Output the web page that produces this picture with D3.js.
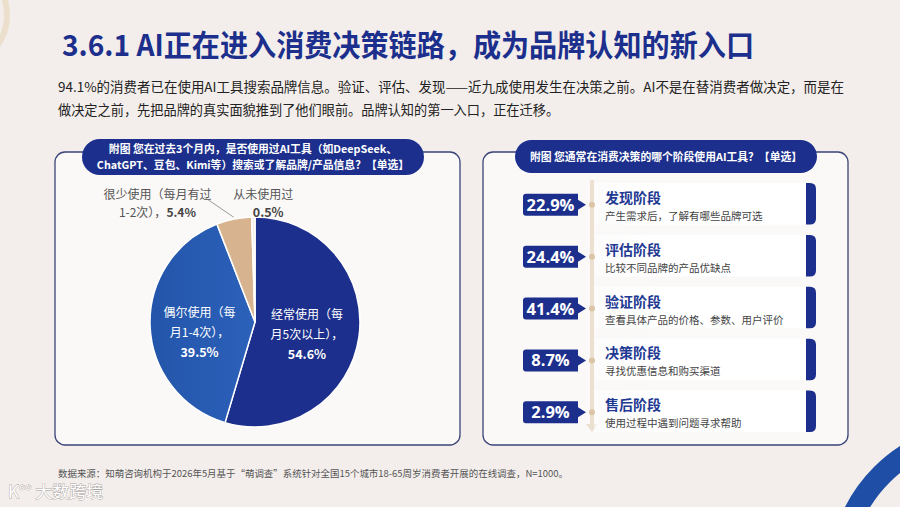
<!DOCTYPE html>
<html>
<head>
<meta charset="utf-8">
<script src="https://cdn.jsdelivr.net/npm/d3@7"></script>
<style>
  html, body { margin: 0; padding: 0; background: #f3eeeb; }
  svg { display: block; font-family: "Noto Sans CJK SC", "Noto Sans", sans-serif; }
</style>
</head>
<body>
<div id="chart"></div>
<script>
// pie: share of AI tool usage frequency
const pieNames = ["经常使用", "偶尔使用", "很少使用", "从未使用过"];
const pieValues = [54.6, 39.5, 5.4, 0.5];
const pieLines = [
  ["经常使用（每", "月5次以上），"],
  ["偶尔使用（每", "月1-4次），"],
  ["很少使用（每月有过", "1-2次），"],
  ["从未使用过", ""]
];

// stages of the purchase decision
const stageNames = ["发现阶段", "评估阶段", "验证阶段", "决策阶段", "售后阶段"];
const stageDescs = ["产生需求后，了解有哪些品牌可选", "比较不同品牌的产品优缺点",
  "查看具体产品的价格、参数、用户评价", "寻找优惠信息和购买渠道", "使用过程中遇到问题寻求帮助"];
const stageValues = [22.9, 24.4, 41.4, 8.7, 2.9];

const W = 900, H = 507;
const navy = "#1c2f8c";

const svg = d3.select("#chart").append("svg")
  .attr("width", W).attr("height", H);

const defs = svg.append("defs");
const g1 = defs.append("linearGradient").attr("id", "midBlue")
  .attr("x1", "0").attr("y1", "0").attr("x2", "1").attr("y2", "0");
g1.append("stop").attr("offset", "0").attr("stop-color", "#2355aa");
g1.append("stop").attr("offset", "1").attr("stop-color", "#2c61ba");
const g2 = defs.append("linearGradient").attr("id", "cardFill")
  .attr("x1", "0").attr("y1", "0").attr("x2", "1").attr("y2", "0");
g2.append("stop").attr("offset", "0").attr("stop-color", "#ffffff").attr("stop-opacity", 0.5);
g2.append("stop").attr("offset", "0.3").attr("stop-color", "#ffffff").attr("stop-opacity", 1);

// background
svg.append("rect").attr("width", W).attr("height", H).attr("fill", "#f3eeeb");

// decorative arcs
svg.append("circle").attr("cx", -45).attr("cy", 15).attr("r", 52)
  .attr("fill", "none").attr("stroke", "#eadcc6").attr("stroke-width", 6).attr("opacity", 0.8);
svg.append("circle").attr("cx", 985).attr("cy", 578).attr("r", 146)
  .attr("fill", "none").attr("stroke", "#1f4ea6").attr("stroke-width", 22);

// title
svg.append("text").attr("x", 62).attr("y", 56)
  .attr("font-size", 29.5).attr("font-weight", 700).attr("fill", navy)
  .attr("textLength", 692).attr("lengthAdjust", "spacingAndGlyphs")
  .text("3.6.1 AI正在进入消费决策链路，成为品牌认知的新入口");

svg.append("text").attr("x", 58).attr("y", 92)
  .attr("font-size", 13.2).attr("fill", "#222")
  .attr("textLength", 786).attr("lengthAdjust", "spacingAndGlyphs")
  .text("94.1%的消费者已在使用AI工具搜索品牌信息。验证、评估、发现——近九成使用发生在决策之前。AI不是在替消费者做决定，而是在");
svg.append("text").attr("x", 58).attr("y", 115)
  .attr("font-size", 13.2).attr("fill", "#222")
  .text("做决定之前，先把品牌的真实面貌推到了他们眼前。品牌认知的第一入口，正在迁移。");

// panels
function panel(x, y, w, h) {
  svg.append("rect").attr("x", x).attr("y", y).attr("width", w).attr("height", h)
    .attr("rx", 10).attr("fill", "#fbf9f8").attr("stroke", "#3a4478").attr("stroke-width", 1.3);
}
panel(55, 152, 405, 293);
panel(483, 152, 365, 293);

function pill(x, y, w, h, lines, cy, gap) {
  svg.append("rect").attr("x", x).attr("y", y).attr("width", w).attr("height", h)
    .attr("rx", h / 2).attr("fill", navy);
  lines.forEach((t, i) => {
    svg.append("text").attr("x", x + w / 2).attr("y", cy + i * gap)
      .attr("text-anchor", "middle").attr("font-size", 10.8).attr("font-weight", 700)
      .attr("fill", "#fff").text(t);
  });
}
pill(82, 139, 342, 36, ["附图  您在过去3个月内，是否使用过AI工具（如DeepSeek、", "ChatGPT、豆包、Kimi等）搜索或了解品牌/产品信息？【单选】"], 153, 15.5);
pill(515, 140, 302, 33, ["附图  您通常在消费决策的哪个阶段使用AI工具？【单选】"], 161, 0);

// ---------- pie ----------
const cx = 255, cy = 322, R = 105;
const pieColors = [navy, "url(#midBlue)", "#d7b48f", "#f3ece4"];
const pie = d3.pie().sort(null).value(d => d)(pieValues);
const arc = d3.arc().innerRadius(0).outerRadius(R);
const pg = svg.append("g").attr("transform", `translate(${cx},${cy})`);

pg.selectAll("path.slice").data(pie).enter().append("path")
  .attr("class", "slice")
  .attr("d", arc)
  .attr("fill", (d, i) => pieColors[i])
  .attr("stroke", "#fff").attr("stroke-width", 1.5);

// inside labels
const inArc = d3.arc().innerRadius(R * 0.5).outerRadius(R * 0.5);
pie.slice(0, 2).forEach((d, i) => {
  const c = inArc.centroid({ startAngle: d.startAngle, endAngle: d.endAngle });
  const x = c[0] + (i === 0 ? 0 : -3);
  const y0 = i === 0 ? -11 : -7;
  const t = pg.append("g").attr("transform", `translate(${x},${c[1] + y0})`);
  pieLines[i].forEach((s, k) => {
    t.append("text").attr("y", k * 20).attr("text-anchor", "middle")
      .attr("font-size", 12).attr("fill", "#fff").text(s);
  });
  t.append("text").attr("y", 40).attr("text-anchor", "middle")
    .attr("font-size", 12.5).attr("font-weight", 700).attr("fill", "#fff")
    .text(d3.format(".1f")(pieValues[i]) + "%");
});

// outside labels
const outArc = d3.arc().innerRadius(R + 8).outerRadius(R + 8);
const edgeArc = d3.arc().innerRadius(R + 2).outerRadius(R + 2);
{
  const d = pie[2];
  const c = outArc.centroid(d);
  const e = edgeArc.centroid(d);
  pg.append("path")
    .attr("d", d3.line()([[c[0] - 28, c[1] - 14], e]))
    .attr("stroke", "#9a9a9a").attr("fill", "none").attr("stroke-width", 1);
  const lx = c[0] - 75;
  pg.append("text").attr("x", lx).attr("y", c[1] - 12).attr("text-anchor", "middle")
    .attr("font-size", 12).attr("fill", "#555").text(pieLines[2][0]);
  const t2 = pg.append("text").attr("x", lx).attr("y", c[1] + 6).attr("text-anchor", "middle")
    .attr("font-size", 12).attr("fill", "#555");
  t2.append("tspan").text(pieLines[2][1]);
  t2.append("tspan").attr("font-weight", 700).attr("fill", "#444").text(d3.format(".1f")(pieValues[2]) + "%");
}
{
  const d = pie[3];
  const c = outArc.centroid(d);
  pg.append("text").attr("x", c[0] + 10).attr("y", c[1] - 10).attr("text-anchor", "middle")
    .attr("font-size", 12).attr("fill", "#555").text(pieLines[3][0]);
  pg.append("text").attr("x", c[0] + 15).attr("y", c[1] + 8).attr("text-anchor", "middle")
    .attr("font-size", 12.5).attr("font-weight", 700).attr("fill", "#444")
    .text(d3.format(".1f")(pieValues[3]) + "%");
}

// ---------- stages ----------
const yBand = d3.scaleBand().domain(stageNames).range([183, 432]).paddingInner(0.2);
const rowY = n => yBand(n) + yBand.bandwidth() / 2;

// timeline
const lineX = 592;
svg.append("line").attr("x1", lineX).attr("x2", lineX)
  .attr("y1", yBand.range()[0] - 3).attr("y2", yBand.range()[1] - 6)
  .attr("stroke", "#ece0d0").attr("stroke-width", 4);
svg.append("path")
  .attr("d", `M${lineX - 6},${yBand.range()[1] - 8} L${lineX + 6},${yBand.range()[1] - 8} L${lineX},${yBand.range()[1]} Z`)
  .attr("fill", "#ece0d0");

const rows = svg.append("g").selectAll("g").data(stageNames).enter().append("g")
  .attr("transform", d => `translate(0,${rowY(d)})`);

const cardX0 = 594, cardX1 = 806, hh = yBand.bandwidth() / 2;
rows.append("rect").attr("x", cardX0).attr("y", -hh).attr("width", cardX1 - cardX0).attr("height", hh * 2)
  .attr("fill", "url(#cardFill)");
rows.append("path")
  .attr("d", `M${cardX1},${-hh} L${cardX1 + 4},${-hh} Q${cardX1 + 10},${-hh} ${cardX1 + 10},${-hh + 6} L${cardX1 + 10},${hh - 6} Q${cardX1 + 10},${hh} ${cardX1 + 4},${hh} L${cardX1},${hh} Z`)
  .attr("fill", navy);

rows.append("circle").attr("cx", lineX).attr("cy", 1).attr("r", 3).attr("fill", "#dcc5a6");

// badge
const bx0 = 523, bx1 = 578, bh = 11;
rows.append("path")
  .attr("d", `M${bx0 + 3},${1 - bh} L${bx1},${1 - bh} L${bx1},${1 - 5} L${bx1 + 8},1 L${bx1},${1 + 5} L${bx1},${1 + bh} L${bx0 + 3},${1 + bh} Q${bx0},${1 + bh} ${bx0},${bh - 2} L${bx0},${-bh + 4} Q${bx0},${1 - bh} ${bx0 + 3},${1 - bh} Z`)
  .attr("fill", navy);
rows.append("text").attr("x", (bx0 + bx1) / 2).attr("y", 7)
  .attr("text-anchor", "middle").attr("font-size", 16.5).attr("font-weight", 700)
  .attr("font-family", "'Open Sans', 'Noto Sans', sans-serif")
  .attr("fill", "#fff").text((d, i) => d3.format(".1f")(stageValues[i]) + "%");

rows.append("text").attr("x", 605).attr("y", -1)
  .attr("font-size", 14).attr("font-weight", 700).attr("fill", "#1f3a93").text(d => d);
rows.append("text").attr("x", 605).attr("y", 16)
  .attr("font-size", 10.5).attr("fill", "#444").text((d, i) => stageDescs[i]);

// footer
svg.append("text").attr("x", 58).attr("y", 477)
  .attr("font-size", 9.5).attr("fill", "#555")
  .attr("textLength", 510).attr("lengthAdjust", "spacingAndGlyphs")
  .text("数据来源：知萌咨询机构于2026年5月基于“萌调查”系统针对全国15个城市18-65周岁消费者开展的在线调查，N=1000。");

// corner watermark
svg.append("text").attr("x", 8).attr("y", 498)
  .attr("font-size", 17).attr("fill", "#fff").attr("stroke", "#a9a3a0").attr("stroke-width", 0.8)
  .attr("paint-order", "stroke").text("K°° 大数跨境");
</script>
</body>
</html>
